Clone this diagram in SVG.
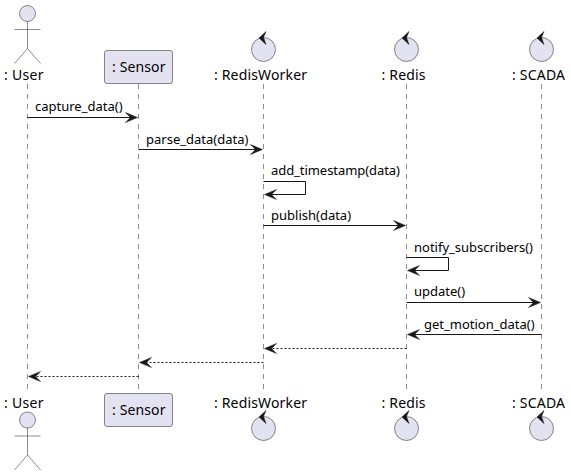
<svg xmlns="http://www.w3.org/2000/svg" width="571" height="476" viewBox="0 0 571 476">
<style>
text{font-family:"Noto Sans","Open Sans","DejaVu Sans",sans-serif;fill:#000}
.p{font-size:14px}.m{font-size:13px}
.life{stroke:#181818;stroke-width:.5;stroke-dasharray:5 5;fill:none}
.shape{fill:#E2E2F0;stroke:#181818;stroke-width:.5}
.line{stroke:#181818;stroke-width:1;fill:none}
.dash{stroke:#181818;stroke-width:1;stroke-dasharray:2 2;fill:none}
.head{fill:#181818;stroke:#181818;stroke-width:.5}
</style>
<defs>
<g id="actor"><circle class="shape" cx="0" cy="0" r="8"/><path class="shape" style="fill:none" d="M0 8V35M-13 16H13M0 35L-13 50M0 35L13 50"/></g>
<g id="control"><circle class="shape" cx="0" cy="0" r="12"/><polygon class="head" points="-4.5,-11.5 2.5,-18 0,-12 2.5,-5"/></g>
<polygon id="ar" class="head" points="0,0 -12,-5 -7,0 -12,5"/>
<polygon id="al" class="head" points="0,0 12,-5 7,0 12,5"/>
</defs>
<g id="lifelines">
<path class="life" d="M27.5 84V390"/><path class="life" d="M138.5 84V390"/><path class="life" d="M263.5 84V390"/><path class="life" d="M406.5 84V390"/><path class="life" d="M541.5 84V390"/>
</g>
<g id="connectors">
<path class="line" d="M27.5 117.5H131"/><use href="#ar" x="137.5" y="117.5"/>
<path class="line" d="M138.5 149.5H256"/><use href="#ar" x="262.5" y="149.5"/>
<path class="line" d="M263.5 181.5H305.5V194.5H271"/><use href="#al" x="264.5" y="194.5"/>
<path class="line" d="M263.5 225.5H399"/><use href="#ar" x="405.5" y="225.5"/>
<path class="line" d="M406.5 257.5H448.5V270.5H414"/><use href="#al" x="407.5" y="270.5"/>
<path class="line" d="M406.5 302.5H534"/><use href="#ar" x="540.5" y="302.5"/>
<path class="line" d="M541.5 334.5H414"/><use href="#al" x="407.5" y="334.5"/>
<path class="dash" d="M406.5 348.5H271"/><use href="#al" x="264.5" y="348.5"/>
<path class="dash" d="M263.5 362.5H146"/><use href="#al" x="139.5" y="362.5"/>
<path class="dash" d="M138.5 376.5H35"/><use href="#al" x="28.5" y="376.5"/>
</g>
<g id="labels">
<text class="m" x="35" y="111">capture_data()</text>
<text class="m" x="146" y="144">parse_data(data)</text>
<text class="m" x="271" y="175" textLength="129">add_timestamp(data)</text>
<text class="m" x="271" y="220">publish(data)</text>
<text class="m" x="414" y="252">notify_subscribers()</text>
<text class="m" x="414" y="296">update()</text>
<text class="m" x="424" y="329">get_motion_data()</text>
</g>
<g id="node-user-top"><use href="#actor" x="27.5" y="13.5"/><text class="p" x="4" y="80" textLength="39.5">: User</text></g>
<g id="node-sensor-top"><rect class="shape" x="104.5" y="50.5" width="68" height="33" rx="2.5"/><text class="p" x="112" y="72" textLength="53.5">: Sensor</text></g>
<g id="node-redisworker-top"><use href="#control" x="263.5" y="49.5"/><text class="p" x="214" y="80" textLength="93">: RedisWorker</text></g>
<g id="node-redis-top"><use href="#control" x="406.5" y="49.5"/><text class="p" x="381.5" y="80" textLength="44">: Redis</text></g>
<g id="node-scada-top"><use href="#control" x="541.5" y="49.5"/><text class="p" x="512" y="80" textLength="53">: SCADA</text></g>
<g id="node-user-bottom"><text class="p" x="4" y="408" textLength="39.5">: User</text><use href="#actor" x="27.5" y="420"/></g>
<g id="node-sensor-bottom"><rect class="shape" x="104.5" y="393.5" width="68" height="33" rx="2.5"/><text class="p" x="112" y="415" textLength="53.5">: Sensor</text></g>
<g id="node-redisworker-bottom"><text class="p" x="214" y="408" textLength="93">: RedisWorker</text><use href="#control" x="263.5" y="428.5"/></g>
<g id="node-redis-bottom"><text class="p" x="381.5" y="408" textLength="44">: Redis</text><use href="#control" x="406.5" y="428.5"/></g>
<g id="node-scada-bottom"><text class="p" x="512" y="408" textLength="53">: SCADA</text><use href="#control" x="541.5" y="428.5"/></g>
</svg>
